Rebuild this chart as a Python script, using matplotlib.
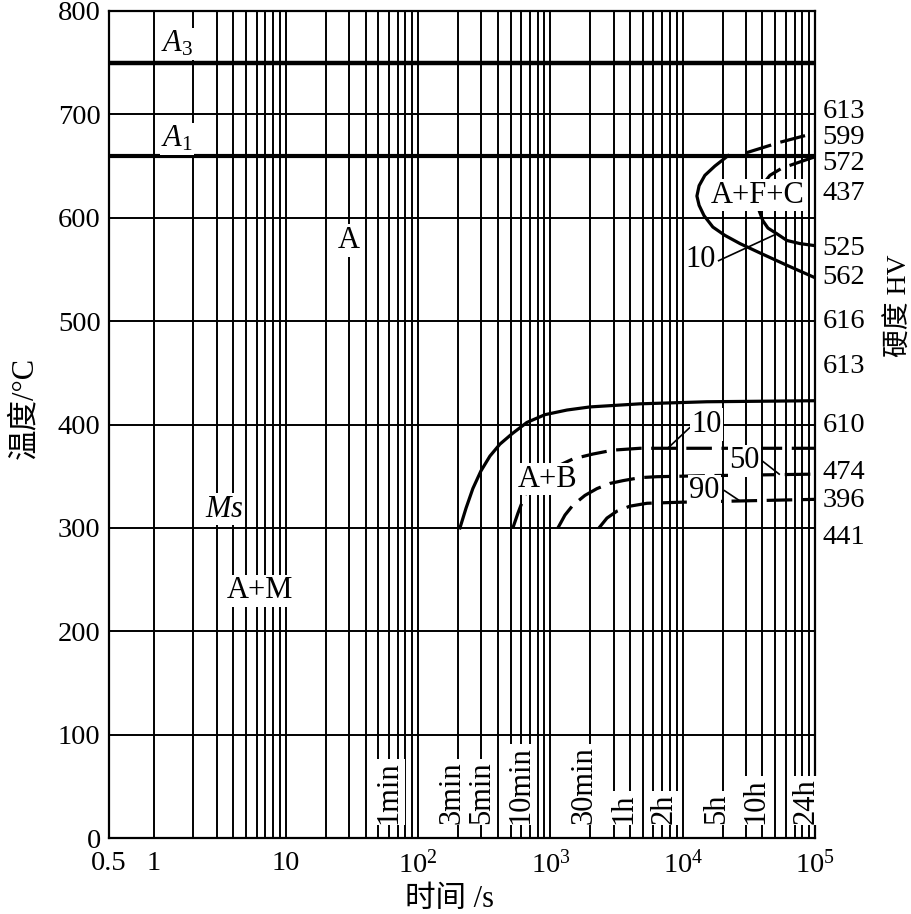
import numpy as np
import matplotlib
matplotlib.use("Agg")
import matplotlib.pyplot as plt
import matplotlib.transforms as mtransforms

plt.rcParams['font.family'] = ['Liberation Serif', 'Noto Sans CJK SC']
plt.rcParams['mathtext.fontset'] = 'custom'
plt.rcParams['mathtext.rm'] = 'Liberation Serif'
plt.rcParams['mathtext.it'] = 'Liberation Serif:italic'

# kritische Temperaturen
A3 = 750
A1 = 660

# Ferrit+Karbid Bereich
fc_start_t = [22000, 17500, 14700, 13300, 12800, 13300, 14500, 16900, 20800, 27100, 38300, 61400, 100000]
fc_start_T = [660, 650, 641, 631, 621, 612, 602, 591, 583, 575, 566, 554, 542]
fc_upper_t = [30500, 54300, 100000]
fc_upper_T = [663, 673, 682]
fc_inner_dash_t = [39700, 45600, 56200, 100000]
fc_inner_dash_T = [631, 641, 648, 659]
fc_inner_t = [35700, 38300, 40400, 44100, 51500, 61400, 77000, 100000]
fc_inner_T = [616, 605, 597, 590, 584.5, 578, 575, 573]

# Bainit Bereich
b_start_t = [207, 230, 259, 298, 349, 415, 512, 664, 909, 1334, 1990, 4750, 15200, 100000]
b_start_T = [300, 319, 338, 355, 369.5, 381, 391, 402, 409.5, 414, 417, 420, 422, 423]
b10_t = [520, 567, 620, 664, 834, 1100, 1480, 2090, 2970, 4750, 100000]
b10_T = [300, 314, 327, 336, 349.5, 359, 366.7, 371.4, 375.2, 377, 377]
b50_t = [1140, 1288, 1480, 1823, 2248, 2820, 3535, 4750, 6390, 15200, 100000]
b50_T = [300, 312.4, 322, 331.4, 338, 343, 345.7, 348.6, 349.5, 350.5, 352]
b90_t = [2330, 2675, 3185, 3990, 5370, 9530, 100000]
b90_T = [300, 309.5, 316.2, 321, 323.8, 324.8, 327.6]

# Haerte rechts
hv_values = ['613', '599', '572', '437', '525', '562', '616', '613', '610', '474', '396', '441']
hv_T = [703, 678, 652, 623, 570, 542, 500, 456, 399, 354, 326, 291]

# Zeitmarken
time_s = [60, 180, 300, 600, 1800, 3600, 7200, 18000, 36000, 86400]
time_lbl = ['1min', '3min', '5min', '10min', '30min', '1h', '2h', '5h', '10h', '24h']

XMIN, XMAX = 0.46, 1e5

fig = plt.figure(figsize=(9.12, 9.14), dpi=100)
ax = fig.add_axes([109/912, 1-838/914, 706/912, 827/914])
ax.set_xscale('log')
ax.set_xlim(XMIN, XMAX)
ax.set_ylim(0, 800)

ax.set_xticks([XMIN, 1, 10, 100, 1000, 10000, 100000])
ax.set_xticklabels(['0.5', '1', '10', '$10^2$', '$10^3$', '$10^4$', '$10^5$'])
minor = [m * 10**k for k in range(0, 5) for m in range(2, 10)]
ax.set_xticks(minor, minor=True)
ax.set_xticklabels([], minor=True)
ax.set_yticks(range(0, 801, 100))
ax.tick_params(axis='both', which='both', length=0, labelsize=20.5)
ax.tick_params(axis='x', pad=9)
ax.tick_params(axis='y', pad=6)
ax.set_axisbelow(True)
ax.grid(True, which='both', axis='x', color='black', lw=1.4)
ax.grid(True, which='major', axis='y', color='black', lw=1.4)
for s in ax.spines.values():
    s.set_linewidth(1.6)

lw = 2.3
dash = (0, (8, 3))
ax.plot([XMIN, XMAX], [A3, A3], color='black', lw=3.2)
ax.plot([XMIN, XMAX], [A1, A1], color='black', lw=3.0)
ax.plot(fc_start_t, fc_start_T, color='black', lw=lw)
ax.plot(fc_upper_t, fc_upper_T, color='black', lw=lw, linestyle=dash)
ax.plot(fc_inner_dash_t, fc_inner_dash_T, color='black', lw=lw, linestyle=dash)
ax.plot(fc_inner_t, fc_inner_T, color='black', lw=lw)
ax.plot(b_start_t, b_start_T, color='black', lw=lw)
ax.plot(b10_t, b10_T, color='black', lw=lw, linestyle=dash)
ax.plot(b50_t, b50_T, color='black', lw=lw, linestyle=dash)
ax.plot(b90_t, b90_T, color='black', lw=lw, linestyle=dash)

# Hinweislinien
ax.plot([18700, 51500], [558.5, 584.5], color='black', lw=1.2)
ax.plot([11300, 7850], [397, 378], color='black', lw=1.2)
ax.plot([37900, 53600], [367, 352], color='black', lw=1.2)
ax.plot([20700, 26400], [336, 327], color='black', lw=1.2)

box = dict(facecolor='white', edgecolor='none', pad=1.0)
def lab(x, y, s, **kw):
    ax.text(x, y, s, fontsize=22, ha='center', va='center', bbox=box, zorder=5, **kw)

lab(1.5, 768, '$A_3$')
lab(1.5, 676, '$A_1$')
lab(29.8, 578, 'A')
lab(3.42, 318, '$Ms$')
lab(6.4, 239, 'A+M')
lab(949, 347, 'A+B')
lab(36600, 622, 'A+F+C')
lab(13600, 560, '10')
lab(15100, 400, '10')
lab(29300, 365, '50')
lab(14600, 336, '90')

for t, s in zip(time_s, time_lbl):
    ax.text(t, 14, s, fontsize=22, rotation=90, ha='center', va='bottom', bbox=box, zorder=5)

trans = mtransforms.blended_transform_factory(ax.transAxes, ax.transData)
for v, T in zip(hv_values, hv_T):
    ax.text(1.011, T, v, fontsize=20.5, ha='left', va='center', transform=trans)
ax.text(1.12, 515, '硬度 HV', fontsize=20, rotation=90, ha='center', va='center', transform=trans)

ax.text(-0.119, 0.52, '温度/°C', fontsize=22, rotation=90, ha='center', va='center', transform=ax.transAxes)
ax.text(0.483, -0.074, '时间 /s', fontsize=22, ha='center', va='center', transform=ax.transAxes)

fig.savefig('out.png', dpi=100)
